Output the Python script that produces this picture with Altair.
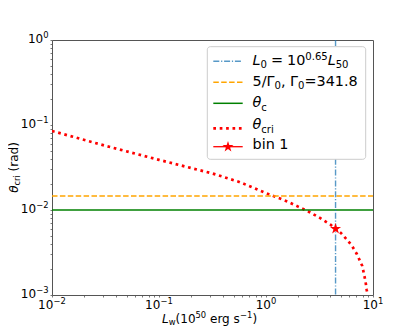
import altair as alt
import pandas as pd

# ---------------- data ----------------
curve_x = [0.01, 0.0316, 0.1, 0.316, 0.562, 1.0, 1.585, 1.995, 2.512, 3.162,
           3.981, 4.467, 5.012, 5.623, 6.310, 7.079, 7.943, 8.511, 8.71, 8.91]
curve_y = [0.0851, 0.0569, 0.0389, 0.0269, 0.0214, 0.0158, 0.0126, 0.01096, 0.00955, 0.00813,
           0.00676, 0.00603, 0.00537, 0.00457, 0.00385, 0.00302, 0.00219, 0.00145, 0.00117, 0.001]
L0_value = [4.467]          # 10**0.65
gamma_value = [0.01463]     # 5 / 341.8
theta_c_value = [0.01]
bin_x = [4.467]
bin_y = [0.006]

x_major = [0.01, 0.1, 1, 10]
y_major = [0.001, 0.01, 0.1, 1]
x_minor = [m * d for d in [0.01, 0.1, 1] for m in range(2, 10)]
y_minor = [m * d for d in [0.001, 0.01, 0.1] for m in range(2, 10)]
x_neg_vals, x_neg_exp = [0.01, 0.1], ["−2", "−1"]
x_pos_vals, x_pos_exp = [1, 10], ["0", "1"]
y_neg_vals, y_neg_exp = [0.001, 0.01, 0.1], ["−3", "−2", "−1"]
y_pos_vals, y_pos_exp = [1], ["0"]

W, H = 321, 255
FONT = "DejaVu Sans"
STAR = ("M0,-1L0.2245,-0.309L0.9511,-0.309L0.3633,0.118L0.5878,0.809L0,0.382"
        "L-0.5878,0.809L-0.3633,0.118L-0.9511,-0.309L-0.2245,-0.309Z")
one = pd.DataFrame({"a": [0]})

xscale = alt.Scale(type="log", domain=[0.01, 10], nice=False)
yscale = alt.Scale(type="log", domain=[0.001, 1], nice=False)
xaxis = alt.Axis(values=x_major + x_minor, labels=False, domain=False, grid=False, orient="bottom",
                 title=None, tickSize=2, tickColor="#555", tickWidth=0.8)
yaxis = alt.Axis(values=y_major + y_minor, labels=False, domain=False, grid=False, orient="left",
                 title=None, tickSize=2, tickColor="#555", tickWidth=0.8)

def X(f):
    return alt.X(f, type="quantitative", scale=xscale, axis=xaxis)

def Y(f):
    return alt.Y(f, type="quantitative", scale=yscale, axis=yaxis)

BLUE = dict(color="#1f77b4", strokeWidth=1.4, strokeDash=[6, 1.8, 1.2, 1.8], opacity=0.75)
ORANGE = dict(color="#FFA500", strokeWidth=1.6, strokeDash=[5.5, 2.4])
GREEN = dict(color="#008000", strokeWidth=1.5)
RED_DOT = dict(color="red", strokeWidth=2.7, strokeDash=[2.7, 3.7], strokeCap="butt")

curve = alt.Chart(pd.DataFrame({"x": curve_x, "y": curve_y})).mark_line(
    clip=True, **RED_DOT).encode(x=X("x"), y=Y("y"))

hgam = alt.Chart(pd.DataFrame({"y": gamma_value})).mark_rule(**ORANGE).encode(
    y=Y("y"), x=alt.value(0), x2=alt.value(W))

hth = alt.Chart(pd.DataFrame({"y": theta_c_value})).mark_rule(**GREEN).encode(
    y=Y("y"), x=alt.value(0), x2=alt.value(W))

vline = alt.Chart(pd.DataFrame({"x": L0_value})).mark_rule(**BLUE).encode(
    x=X("x"), y=alt.value(0), y2=alt.value(H))

star = alt.Chart(pd.DataFrame({"x": bin_x, "y": bin_y})).mark_point(
    shape=STAR, filled=True, color="red", size=134, opacity=1
).encode(x=X("x"), y=Y("y"))

# ---------------- tick labels (10 with superscript exponent) ----------------
def xlab(vals, exps, split):
    df = pd.DataFrame({"v": vals, "e": exps})
    b = alt.Chart(df).mark_text(align="right", baseline="middle", dx=split, fontSize=12,
                                font=FONT, color="black").encode(
        x=X("v"), y=alt.value(H + 10), text=alt.value("10"))
    e = alt.Chart(df).mark_text(align="left", baseline="middle", dx=split, fontSize=8.4,
                                font=FONT, color="black").encode(
        x=X("v"), y=alt.value(H + 6), text="e:N")
    return [b, e]

def ylab(vals, exps, expw):
    df = pd.DataFrame({"v": vals, "e": exps})
    b = alt.Chart(df).mark_text(align="right", baseline="middle", dy=-1, fontSize=12,
                                font=FONT, color="black").encode(
        y=Y("v"), x=alt.value(-3.5 - expw), text=alt.value("10"))
    e = alt.Chart(df).mark_text(align="right", baseline="middle", dy=-5, fontSize=8.4,
                                font=FONT, color="black").encode(
        y=Y("v"), x=alt.value(-3.5), text="e:N")
    return [b, e]

ticklabels = (xlab(x_neg_vals, x_neg_exp, 1.4) + xlab(x_pos_vals, x_pos_exp, 5.0)
              + ylab(y_neg_vals, y_neg_exp, 12.4) + ylab(y_pos_vals, y_pos_exp, 5.3))

# ---------------- axis titles built from pieces ----------------
def txt(t, x, y, size, italic=False, angle=0):
    kw = dict(align="left", baseline="middle", fontSize=size, font=FONT, color="black")
    if italic:
        kw["fontStyle"] = "italic"
    if angle:
        kw["angle"] = angle
    return alt.Chart(one).mark_text(**kw).encode(
        x=alt.value(x), y=alt.value(y), text=alt.value(t))

ty = H + 24
xtitle = [
    txt("L", 110, ty, 12, italic=True),
    txt("w", 116.7, ty + 3, 8.4),
    txt("(10", 123.6, ty, 12),
    txt("50", 143.5, ty - 4, 8.4),
    txt("erg s", 158.0, ty, 12),
    txt("−1", 188, ty - 4, 8.4),
    txt(")", 200.4, ty, 12),
]
tx = -38.5
ytitle = [
    txt("θ", tx, 152.8, 12, italic=True, angle=270),
    txt("cri", tx + 3, 145.6, 8.4, angle=270),
    txt("(rad)", tx, 131.4, 12, angle=270),
]

# ---------------- legend ----------------
LF, SF = 14.4, 10.08
LX0, LX1 = 161.3, 190.7
TX = 200.5
rows_y = [21.3, 42.3, 63.3, 88.3, 106.7]
box = alt.Chart(one).mark_rect(fill="white", stroke="#cccccc", strokeWidth=1,
                                cornerRadius=3).encode(
    x=alt.value(155.3), x2=alt.value(313.7), y=alt.value(6.7), y2=alt.value(119.3))

def handle(y, **kw):
    return alt.Chart(one).mark_rule(**kw).encode(
        x=alt.value(LX0), x2=alt.value(LX1), y=alt.value(y))

handles = [
    handle(rows_y[0], **BLUE),
    handle(rows_y[1], **ORANGE),
    handle(rows_y[2], **GREEN),
    handle(rows_y[3], **RED_DOT),
    handle(rows_y[4], color="red", strokeWidth=1.3),
    alt.Chart(one).mark_point(shape=STAR, filled=True, color="red", size=134, opacity=1).encode(
        x=alt.value((LX0 + LX1) / 2), y=alt.value(rows_y[4])),
]

r1, r2, r3, r4, r5 = 21.3, 42.0, 63.3, 85.3, 105.0
legend_texts = [
    # L_0 = 10^{0.65} L_50
    txt("L", TX, r1, LF, italic=True),
    txt("0", TX + 8.0, r1 + 4, SF),
    txt("=", TX + 18.4, r1, LF),
    txt("10", TX + 34.5, r1, LF),
    txt("0.65", TX + 52.8, r1 - 4.5, SF),
    txt("L", TX + 75.2, r1, LF, italic=True),
    txt("50", TX + 83.2, r1 + 4, SF),
    # 5/Γ_0, Γ_0=341.8
    txt("5/", TX, r2, LF),
    txt("Γ", TX + 14.0, r2, LF),
    txt("0", TX + 22.0, r2 + 4, SF),
    txt(",", TX + 28.4, r2, LF),
    txt("Γ", TX + 37.6, r2, LF),
    txt("0", TX + 45.6, r2 + 4, SF),
    txt("=341.8", TX + 52.0, r2, LF),
    # θ_c
    txt("θ", TX, r3, LF, italic=True),
    txt("c", TX + 8.7, r3 + 4.5, SF),
    # θ_cri
    txt("θ", TX, r4, LF, italic=True),
    txt("cri", TX + 8.7, r4 + 4.5, SF),
    # bin 1
    txt("bin 1", TX, r5, LF),
]

chart = alt.layer(
    curve, hgam, hth, vline, star, box, *handles, *legend_texts,
    *ticklabels, *xtitle, *ytitle
).properties(
    width=W, height=H,
    padding={"left": 44, "top": 32, "right": 34, "bottom": 32},
    autosize=alt.AutoSizeParams(type="none"),
).configure_view(stroke="#555", strokeWidth=1)

chart.save("out.html", embed_options={"renderer": "svg", "actions": False})
